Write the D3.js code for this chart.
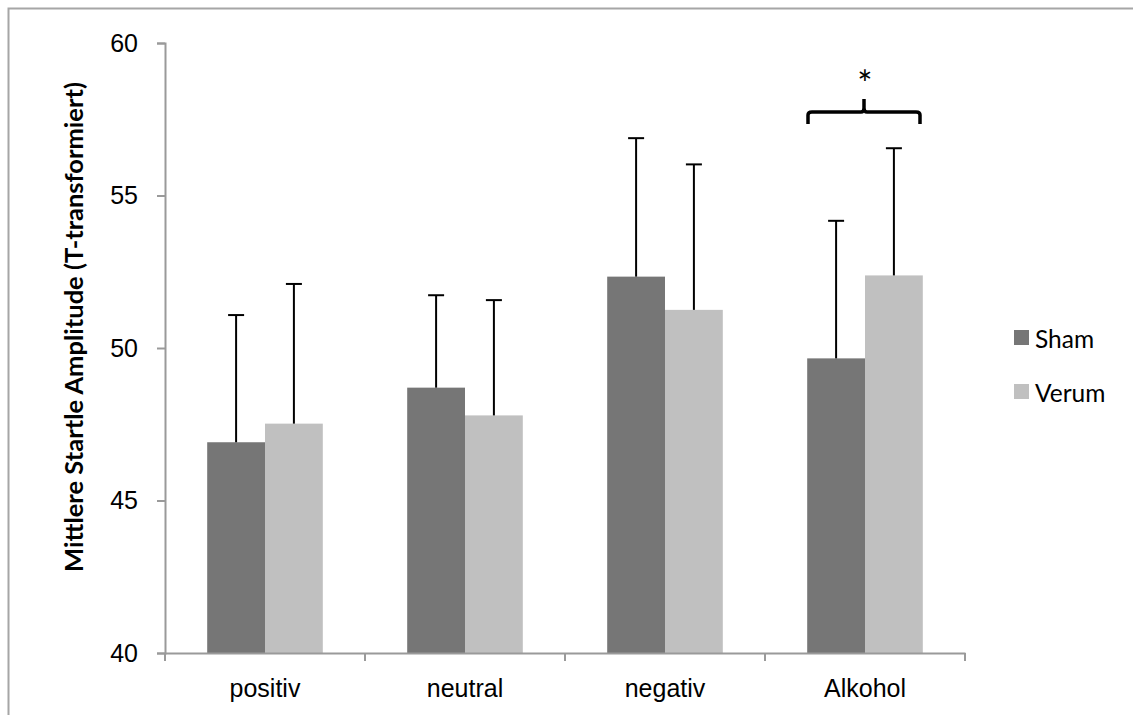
<!DOCTYPE html>
<html>
<head>
<meta charset="utf-8">
<script src="https://cdn.jsdelivr.net/npm/d3@7"></script>
<style>
  body { margin: 0; background: #fff; }
  svg { display: block; font-family: Lato, "Open Sans", sans-serif; }
</style>
</head>
<body>
<svg id="chart" width="1133" height="715"></svg>
<script>
const categories = ['positiv', 'neutral', 'negativ', 'Alkohol'];
const groups = ['Sham', 'Verum'];
const shamMeans = [46.91, 48.70, 52.34, 49.66];
const shamUpper = [51.08, 51.73, 56.88, 54.17];
const verumMeans = [47.52, 47.79, 51.25, 52.38];
const verumUpper = [52.10, 51.57, 56.02, 56.55];
const yTicks = [40, 45, 50, 55, 60];
const colors = { Sham: '#767676', Verum: '#c0c0c0' };

const svg = d3.select('#chart');

// outer frame (right and bottom run off the picture)
svg.append('rect')
    .attr('x', 8.5).attr('y', 8.5)
    .attr('width', 1140).attr('height', 720)
    .attr('fill', 'none').attr('stroke', '#a6a6a6').attr('stroke-width', 2);

const x = d3.scaleBand().domain(categories).range([165, 965]);
const xInner = d3.scaleBand().domain(groups).range([0, x.bandwidth()]).paddingOuter(0.73);
const y = d3.scaleLinear().domain([40, 60]).range([653, 43]);

const rows = [];
categories.forEach((c, i) => {
    rows.push({ cat: c, group: 'Sham', mean: shamMeans[i], upper: shamUpper[i] });
    rows.push({ cat: c, group: 'Verum', mean: verumMeans[i], upper: verumUpper[i] });
});

// bars
svg.append('g').selectAll('rect')
    .data(rows)
    .enter()
    .append('rect')
    .attr('x', d => x(d.cat) + xInner(d.group))
    .attr('width', xInner.bandwidth())
    .attr('y', d => y(d.mean))
    .attr('height', d => y(40) - y(d.mean))
    .attr('fill', d => colors[d.group]);

// error bars (upper only)
const err = svg.append('g').attr('stroke', '#000').attr('stroke-width', 2);
rows.forEach(d => {
    const cx = x(d.cat) + xInner(d.group) + xInner.bandwidth() / 2;
    err.append('line').attr('x1', cx).attr('x2', cx).attr('y1', y(d.mean)).attr('y2', y(d.upper));
    err.append('line').attr('x1', cx - 8).attr('x2', cx + 8).attr('y1', y(d.upper)).attr('y2', y(d.upper));
});

// y axis
const yAxis = svg.append('g')
    .attr('transform', 'translate(165,0)')
    .call(d3.axisLeft(y).tickValues(yTicks).tickSize(8).tickPadding(19));
yAxis.selectAll('text').attr('font-size', 25).attr('fill', '#000');

// x axis
const xAxis = svg.append('g')
    .attr('transform', 'translate(0,653)')
    .call(d3.axisBottom(x).tickSize(0).tickPadding(26));
xAxis.selectAll('text').attr('font-size', 25).attr('fill', '#000');
xAxis.selectAll('.cat-tick')
    .data(x.domain().map(d => x(d)).concat([x.range()[1]]))
    .enter()
    .append('line')
    .attr('x1', d => d).attr('x2', d => d)
    .attr('y1', 0).attr('y2', 8);

svg.selectAll('.domain, .tick line, g line')
    .filter(function() { return this.parentNode !== err.node(); })
    .attr('stroke', '#9a9a9a').attr('stroke-width', 2);
svg.selectAll('.domain').attr('stroke', '#9a9a9a').attr('stroke-width', 2);

// y label
svg.append('text')
    .attr('transform', 'translate(83,327) rotate(-90)')
    .attr('text-anchor', 'middle')
    .attr('font-size', 25.5)
    .attr('font-weight', 'bold')
    .text('Mittlere Startle Amplitude (T-transformiert)');

// significance bracket over Alkohol
const bx0 = 808, bx1 = 920, bmid = (bx0 + bx1) / 2, by = 112;
svg.append('path')
    .attr('d', `M${bx0},${by + 12} V${by + 3} Q${bx0},${by} ${bx0 + 4},${by} H${bmid - 3} Q${bmid},${by} ${bmid},${by - 4} V${by - 13} V${by - 4} Q${bmid},${by} ${bmid + 3},${by} H${bx1 - 4} Q${bx1},${by} ${bx1},${by + 3} V${by + 12}`)
    .attr('fill', 'none').attr('stroke', '#000').attr('stroke-width', 3.5);
svg.append('text')
    .attr('x', bmid + 1).attr('y', 97)
    .attr('text-anchor', 'middle')
    .attr('font-size', 36)
    .text('*');

// legend
const legend = svg.append('g');
groups.forEach((g, i) => {
    legend.append('rect')
        .attr('x', 1014).attr('y', 330 + i * 54)
        .attr('width', 15).attr('height', 15)
        .attr('fill', colors[g]);
    legend.append('text')
        .attr('x', 1035).attr('y', 348 + i * 54)
        .attr('font-size', 24.5)
        .text(g);
});
</script>
</body>
</html>
